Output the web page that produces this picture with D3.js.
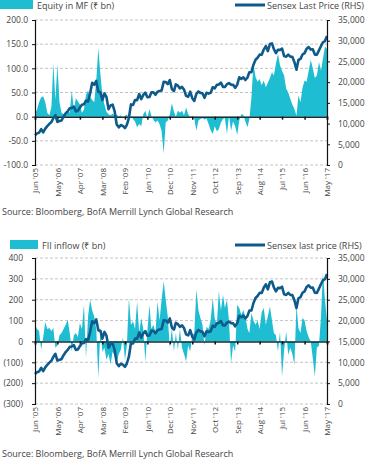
<!DOCTYPE html>
<html lang="en">
<head>
<meta charset="UTF-8">
<title>Equity MF / FII flows vs Sensex</title>
<script src="https://cdn.jsdelivr.net/npm/d3@7"></script>
<style>
  body { margin: 0; background: #fff; overflow: hidden; }
  svg text { font-family: "Open Sans", sans-serif; fill: #444; font-size: 9px; }
</style>
</head>
<body>
<svg id="chart" width="366" height="461"></svg>
<script>
// monthly, Jun 2005 .. May 2017
const startMonth = new Date(2005, 5, 1);

const mfInflow = [
  5, 15, 30, 40, 42, 30, 8, 3, 20, 110, 35, 108,
  30, 8, 5, 10, 12, 8, 54, 15, 38, 32, 25, 8,
  15, 45, 54, 40, 35, 30, 75, 142, 88, 45, 25, 10,
  5, 3, 6, 2, 4, 1, 3, -2, 2, 4, -3, 2,
  -5, -10, -22, -15, -20, 5, 12, -3, 16, 2, -6, -12,
  -8, -15, -30, -76, -12, -8, 4, 28, 10, 0, 12, 8,
  12, 3, 19, 5, 0, 2, -4, -29, -8, -5, -3, -6,
  -4, -15, -28, -36, -20, -30, -26, -12, -5, -3, -36, 3,
  -29, -10, -20, -38, -8, 5, 4, -10, -22, -5, 40, 110,
  82, 72, 78, 65, 75, 61, 70, 80, 92, 85, 110, 130,
  106, 95, 85, 58, 50, 37, 25, 16, 2, 44, 30, 60,
  75, 72, 95, 117, 100, 80, 85, 113, 95, 120, 145, 140
];

const fiiInflow = [
  80, 60, 50, -40, 20, 93, 60, 64, 50, 64, -30, -20,
  30, 40, 60, 80, 104, 40, -48, 30, 40, 20, 88, 60,
  176, -80, 120, 200, 150, 120, 60, -176, 60, -50, -30, -88,
  -60, -110, -50, -70, -100, -60, -40, 20, -90, -20, 208, 80,
  96, 60, 192, 40, 112, 60, -96, 50, 176, 60, 80, 40,
  192, 100, 200, 288, 200, 120, -30, 64, -48, 40, -40, 60,
  -30, -60, -96, -20, -48, 30, 40, 248, 150, 112, 80, -20,
  70, 60, 100, 208, 110, 80, 240, 150, 224, 160, 200, 100,
  -104, -20, -50, 176, 160, 128, 150, 120, 60, 40, 136, 100,
  80, 100, 60, 140, 160, 80, 120, 168, 100, 40, 30, -48,
  48, -168, -40, 48, -64, -30, -60, -112, 176, 64, 40, 112,
  100, 50, 20, 0, -80, -168, -30, -20, 120, 328, 200, 100
];

const sensex = [
  7194, 7636, 7805, 8634, 7892, 8789, 9398,
  9920, 10370, 11280, 12043, 10399, 10609, 10744, 11699, 12454, 12962, 13696, 13787,
  14091, 12938, 13072, 13872, 14544, 14651, 15551, 15319, 17291, 19838, 19363, 20287,
  17649, 17579, 15644, 17287, 16416, 13462, 14356, 14565, 12860, 9788, 9093, 9647,
  9424, 8892, 9709, 11403, 14625, 14494, 15670, 15667, 17127, 15896, 16926, 17465,
  16358, 16430, 17528, 17559, 16945, 17701, 17868, 17971, 20069, 20032, 19521, 20509,
  18328, 17823, 19445, 19136, 18503, 18846, 18197, 16677, 16454, 17705, 16123, 15455,
  17194, 17753, 17404, 17319, 16219, 17430, 17236, 17430, 18763, 18505, 19340, 19427,
  19895, 18862, 18836, 19504, 19760, 19396, 19346, 18620, 19380, 21165, 20792, 21171,
  20514, 21120, 22386, 22418, 24217, 25414, 25895, 26638, 26631, 27866, 28694, 27499,
  29183, 29362, 27957, 27011, 27828, 27781, 28115, 26283, 26155, 26657, 26146, 26118,
  24871, 23002, 25342, 25607, 26668, 26999, 28052, 28452, 27866, 27930, 26653, 26626,
  27656, 28743, 29621, 29918, 31146
];

const mfTicks = [-100, -50, 0, 50, 100, 150, 200];
const fiiTicks = [-300, -200, -100, 0, 100, 200, 300, 400];
const sensexTicks = [0, 5000, 10000, 15000, 20000, 25000, 30000, 35000];

const dates = sensex.map((_, i) => d3.timeMonth.offset(startMonth, i));
const labelDates = d3.range(0, sensex.length, 11).map(i => dates[i]);

const cyan = "#1fbdd2";
const navy = "#0e5a8a";
const svg = d3.select("#chart");

const x = d3.scaleTime()
    .domain([dates[0], dates[dates.length - 1]])
    .range([35, 327]);

function styleTicks(sel, size) {
    sel.selectAll(".tick text")
        .style("font-family", "Open Sans")
        .style("font-size", size)
        .attr("fill", "#444");
}

function drawPanel(p) {
    const yL = d3.scaleLinear().domain(d3.extent(p.ticks)).range([p.bottom, p.top]);
    const yR = d3.scaleLinear().domain([0, 35000]).range([p.bottom, p.top]);
    const g = svg.append("g");

    // dashed grid
    g.selectAll(".grid")
        .data(p.ticks.filter(t => t !== 0))
        .enter().append("line")
        .attr("x1", 35).attr("x2", 327)
        .attr("y1", d => yL(d)).attr("y2", d => yL(d))
        .attr("stroke", "#b5b5b5")
        .attr("stroke-width", 0.8)
        .attr("stroke-dasharray", "3,2");

    // flows area
    const area = d3.area()
        .x((d, i) => x(dates[i]))
        .y0(yL(0))
        .y1(d => yL(d));
    g.append("path")
        .datum(p.flows)
        .attr("d", area)
        .attr("fill", cyan);

    // x axis on the zero line, labels pushed to bottom
    const xAxis = g.append("g")
        .attr("transform", `translate(0,${yL(0)})`)
        .call(d3.axisBottom(x).tickValues(labelDates).tickFormat(d3.timeFormat("%b '%y")).tickSize(3));
    xAxis.select(".domain").attr("stroke", "#1d2b33").attr("stroke-width", 1.5);
    xAxis.selectAll(".tick line").attr("stroke", "#111").attr("stroke-width", 1.5);
    xAxis.selectAll(".tick text")
        .attr("transform", `translate(0,${p.bottom - yL(0) + 3}) rotate(-90)`)
        .attr("x", 0).attr("y", 0).attr("dy", "0.35em")
        .attr("text-anchor", "end");
    styleTicks(xAxis, "8px");

    // sensex line
    const line = d3.line()
        .x((d, i) => x(dates[i]))
        .y(d => yR(d));
    g.append("path")
        .datum(sensex)
        .attr("d", line)
        .attr("fill", "none")
        .attr("stroke", navy)
        .attr("stroke-width", 2.6)
        .attr("stroke-linejoin", "round");

    // left axis
    const left = g.append("g")
        .attr("transform", "translate(35,0)")
        .call(d3.axisLeft(yL).tickValues(p.ticks).tickFormat(p.fmt).tickSize(3).tickPadding(p.pad));
    left.select(".domain").attr("stroke", "#111").attr("stroke-width", 1.2);
    left.selectAll(".tick line").attr("stroke", "#111");
    styleTicks(left, "8.5px");

    // right axis
    const right = g.append("g")
        .attr("transform", "translate(327,0)")
        .call(d3.axisRight(yR).tickValues(sensexTicks).tickFormat(d3.format(",")).tickSize(3).tickPadding(8));
    right.select(".domain").attr("stroke", "#111").attr("stroke-width", 1.2);
    right.selectAll(".tick line").attr("stroke", "#111");
    styleTicks(right, "8.5px");

    // legend
    g.append("rect")
        .attr("x", p.legX).attr("y", p.legY - 5)
        .attr("width", p.legW).attr("height", 9)
        .attr("fill", cyan);
    g.append("text")
        .attr("x", p.legX + p.legW + 4).attr("y", p.legY + 3.5)
        .text(p.flowLabel);
    g.append("line")
        .attr("x1", 235).attr("x2", 265)
        .attr("y1", p.legY).attr("y2", p.legY)
        .attr("stroke", navy).attr("stroke-width", 3);
    g.append("text")
        .attr("x", 267).attr("y", p.legY + 3.5)
        .text(p.lineLabel);

    g.append("text")
        .attr("x", 2).attr("y", p.srcY)
        .text("Source: Bloomberg, BofA Merrill Lynch Global Research");
}

drawPanel({
    top: 20, bottom: 165, ticks: mfTicks, flows: mfInflow,
    fmt: d => d.toFixed(1), pad: 4,
    legX: 0, legY: 5, legW: 33,
    flowLabel: "Equity in MF (₹ bn)", lineLabel: "Sensex Last Price (RHS)",
    srcY: 215
});

drawPanel({
    top: 258, bottom: 404, ticks: fiiTicks, flows: fiiInflow,
    fmt: d => d < 0 ? `(${-d})` : `${d}`, pad: 9,
    legX: 10, legY: 245, legW: 28,
    flowLabel: "FII inflow (₹ bn)", lineLabel: "Sensex last price (RHS)",
    srcY: 457
});
</script>
</body>
</html>
